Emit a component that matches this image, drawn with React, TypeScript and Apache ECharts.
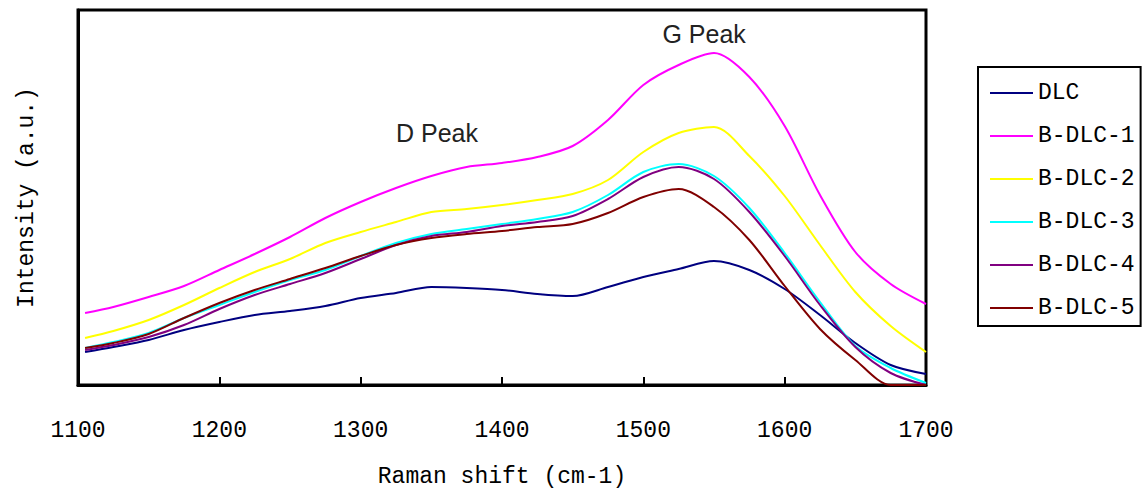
import React, { useEffect, useRef } from "react";
import * as echarts from "echarts";

// Raman shift (cm-1) sample positions
const SHIFT = [1105, 1125, 1150, 1175, 1200, 1225, 1250, 1275, 1300, 1325, 1350, 1375, 1400, 1425, 1450, 1475, 1500, 1525, 1550, 1575, 1600, 1625, 1650, 1675, 1700];

// Intensity (a.u.)
const DLC = [33, 38, 45, 55, 63, 70, 74, 79, 87, 92, 98, 97, 95, 91, 89, 98, 108, 116, 124, 115, 96, 70, 42, 20, 11];
const B_DLC_1 = [72, 78, 88, 99, 115, 131, 148, 167, 183, 197, 209, 218, 222, 228, 239, 265, 300, 320, 332, 308, 259, 190, 133, 101, 81];
const B_DLC_2 = [47, 54, 65, 80, 97, 113, 126, 142, 153, 163, 173, 176, 180, 185, 191, 205, 233, 252, 258, 229, 189, 140, 93, 59, 33];
const B_DLC_3 = [37, 43, 52, 67, 80, 93, 105, 115, 129, 142, 151, 156, 161, 166, 173, 190, 213, 221, 209, 177, 132, 83, 39, 17, 2];
const B_DLC_4 = [35, 40, 48, 60, 76, 90, 101, 112, 126, 140, 149, 153, 159, 163, 169, 186, 208, 218, 206, 173, 129, 80, 38, 12, 0];
const B_DLC_5 = [37, 42, 51, 67, 82, 95, 106, 117, 129, 140, 147, 151, 154, 158, 161, 172, 188, 196, 178, 145, 99, 56, 25, 0, 0];

const SERIES_NAMES = ["DLC", "B-DLC-1", "B-DLC-2", "B-DLC-3", "B-DLC-4", "B-DLC-5"];
const SERIES_VALUES = [DLC, B_DLC_1, B_DLC_2, B_DLC_3, B_DLC_4, B_DLC_5];
const COLORS = ["#000080", "#FF00FF", "#FFFF00", "#00FFFF", "#800080", "#800000"];

const X_TICKS = { min: 1100, max: 1700, interval: 100 };
const Y_RANGE = { min: 0, max: 375 };

// Annotation anchors in data coordinates
const ANNOTATIONS = [
  { text: "D Peak", shift: 1354, value: 252 },
  { text: "G Peak", shift: 1543, value: 351 },
];

const MONO = "'Liberation Mono', 'DejaVu Sans Mono', monospace";
const SANS = "'Liberation Sans', Arial, sans-serif";

export default function App() {
  const ref = useRef<HTMLDivElement>(null);

  useEffect(() => {
    if (!ref.current) return;
    const chart = echarts.init(ref.current, null, { renderer: "svg" });

    const series = SERIES_NAMES.map((name, i) => ({
      name,
      type: "line",
      data: SHIFT.map((x, j) => [x, SERIES_VALUES[i][j]]),
      showSymbol: false,
      symbol: "none",
      smooth: 0.3,
      clip: true,
      lineStyle: { color: COLORS[i], width: 2 },
      itemStyle: { color: COLORS[i] },
      z: 2 + i,
      ...(i === 0
        ? {
            markPoint: {
              silent: true,
              symbol: "circle",
              symbolSize: 0,
              data: ANNOTATIONS.map((a) => ({
                coord: [a.shift, a.value],
                label: {
                  show: true,
                  position: "inside",
                  formatter: a.text,
                  color: "#222",
                  fontFamily: SANS,
                  fontSize: 25,
                },
              })),
            },
          }
        : {}),
    }));

    chart.setOption({
      animation: false,
      backgroundColor: "#ffffff",
      grid: {
        left: 78,
        right: 220,
        top: 10,
        bottom: 108,
        show: true,
        borderColor: "#000",
        borderWidth: 3,
        backgroundColor: "transparent",
      },
      xAxis: {
        type: "value",
        min: X_TICKS.min,
        max: X_TICKS.max,
        interval: X_TICKS.interval,
        axisLine: { show: true, lineStyle: { color: "#000", width: 3 } },
        axisTick: { show: true, inside: true, length: 8, lineStyle: { color: "#000", width: 2 } },
        axisLabel: {
          color: "#000",
          fontFamily: MONO,
          fontSize: 23,
          margin: 34,
          formatter: (v: number) => String(v),
        },
        splitLine: { show: false },
        name: "Raman shift (cm-1)",
        nameLocation: "middle",
        nameGap: 80,
        nameTextStyle: { color: "#000", fontFamily: MONO, fontSize: 23 },
      },
      yAxis: {
        type: "value",
        min: Y_RANGE.min,
        max: Y_RANGE.max,
        axisLine: { show: true, lineStyle: { color: "#000", width: 3 } },
        axisTick: { show: false },
        axisLabel: { show: false },
        splitLine: { show: false },
        name: "Intensity (a.u.)",
        nameLocation: "middle",
        nameGap: 40,
        nameRotate: 90,
        nameTextStyle: { color: "#000", fontFamily: MONO, fontSize: 23 },
      },
      legend: {
        orient: "vertical",
        left: 978,
        top: 67,
        padding: [14, 6, 6, 12],
        borderColor: "#000",
        borderWidth: 2,
        itemWidth: 43,
        itemHeight: 2,
        itemGap: 19,
        icon: "rect",
        data: SERIES_NAMES,
        textStyle: { color: "#000", fontFamily: MONO, fontSize: 23, lineHeight: 24 },
      },
      series,
    });

    return () => chart.dispose();
  }, []);

  return (
    <div
      ref={ref}
      style={{ position: "fixed", left: 0, top: 0, width: 1146, height: 493, background: "#fff" }}
    />
  );
}
